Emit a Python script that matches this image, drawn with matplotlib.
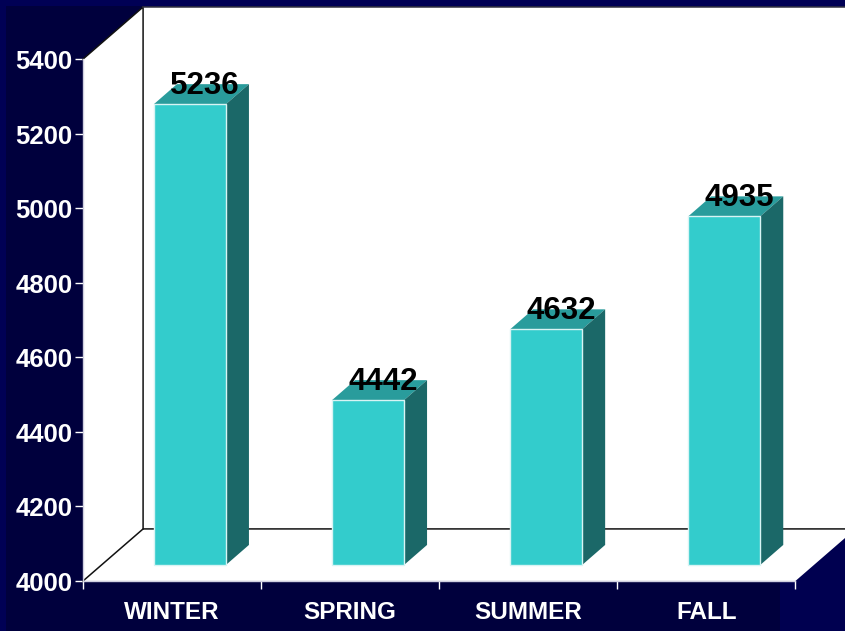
import matplotlib
matplotlib.use("Agg")
import matplotlib.pyplot as plt
from matplotlib.patches import Polygon, Rectangle

plt.rcParams['font.family'] = ['Liberation Sans', 'DejaVu Sans']

seasons = ["WINTER", "SPRING", "SUMMER", "FALL"]
sales = [5236, 4442, 4632, 4935]
y_ticks = [4000, 4200, 4400, 4600, 4800, 5000, 5200, 5400]

# value axis runs 4000-5400, categories 0-4, rest of the figure is margin
px_x = 178.0
px_y = 521.5 / 1400
Y0 = 4000
Y1 = 5400
depth_x = 60 / px_x
depth_y = 52 / px_y
bar_dx = 23 / px_x
bar_dy = 20 / px_y
bar_lift = 16 / px_y
bar_w = 72 / px_x

fig = plt.figure(figsize=(8.455, 6.315), dpi=100, facecolor="#000055")
ax = fig.add_axes([0, 0, 1, 1])
ax.set_xlim(-83 / px_x, 762 / px_x)
ax.set_ylim(Y0 - 50 / px_y, Y1 + 59.5 / px_y)
ax.patch.set_visible(False)

# dark inner panel behind the chart
ax.add_patch(Rectangle((6 / 845, 0), 774 / 845, 1 - 6 / 631, transform=ax.transAxes,
                       color="#00003d", lw=0, zorder=0))
ax.add_patch(Rectangle((780 / 845, 0), 65 / 845, 1 - 6 / 631, transform=ax.transAxes,
                       color="#000050", lw=0, zorder=0))

# walls and floor
ax.add_patch(Polygon([(0, Y0), (0, Y1), (depth_x, Y1 + depth_y), (4 + depth_x, Y1 + depth_y),
                      (4 + depth_x, Y0 + depth_y), (4, Y0)], fc="white", ec="none", zorder=1))
ax.plot([0, depth_x, depth_x], [Y1, Y1 + depth_y, Y0 + depth_y], color="#111111", lw=1.1, zorder=2)
ax.plot([0, depth_x, 4 + depth_x], [Y0, Y0 + depth_y, Y0 + depth_y], color="#111111", lw=1.1, zorder=2)
ax.plot([depth_x, 4 + depth_x], [Y1 + depth_y, Y1 + depth_y], color="#333344", lw=1.1, zorder=2)

# bars
centers = [0.6, 1.6, 2.6, 3.6]
ax.bar(centers, [v - Y0 for v in sales], width=bar_w, bottom=Y0 + bar_lift,
       color="#33cccc", edgecolor="#d8f4f4", linewidth=1, zorder=4)
for c, v in zip(centers, sales):
    left = c - bar_w / 2
    right = c + bar_w / 2
    top = v + bar_lift
    ax.add_patch(Polygon([(left, top), (right, top), (right + bar_dx, top + bar_dy), (left + bar_dx, top + bar_dy)],
                         fc="#299c9c", ec="none", zorder=3))
    ax.add_patch(Polygon([(right, Y0 + bar_lift), (right, top), (right + bar_dx, top + bar_dy),
                          (right + bar_dx, Y0 + bar_lift + bar_dy)],
                         fc="#1b6868", ec="none", zorder=3))
    ax.text(c + 0.085, v + 94, str(v), ha="center", va="center", color="black",
            fontsize=22.5, fontweight="bold", zorder=5)

# axes
for name in ["top", "right"]:
    ax.spines[name].set_visible(False)
ax.spines["left"].set_position(("data", 0))
ax.spines["left"].set_bounds(Y0, Y1)
ax.spines["bottom"].set_position(("data", Y0))
ax.spines["bottom"].set_bounds(0, 4)
for name in ["left", "bottom"]:
    ax.spines[name].set_color("#d0d0e0")
    ax.spines[name].set_linewidth(1)
    ax.spines[name].set_zorder(6)

ax.set_yticks(y_ticks)
ax.set_yticklabels([str(t) for t in y_ticks], fontsize=18.5, fontweight="bold", color="white")
ax.tick_params(axis="y", length=5.5, width=1, color="white", pad=2)
ax.set_xticks([0, 1, 2, 3, 4])
ax.set_xticklabels([])
ax.tick_params(axis="x", which="major", length=6, width=1, color="white")
ax.set_xticks([0.5, 1.5, 2.5, 3.5], minor=True)
ax.set_xticklabels(seasons, minor=True, fontsize=17.5, fontweight="bold", color="white")
ax.tick_params(axis="x", which="minor", length=0, pad=14)

fig.savefig("out.png", dpi=100, facecolor=fig.get_facecolor())
plt.close(fig)
